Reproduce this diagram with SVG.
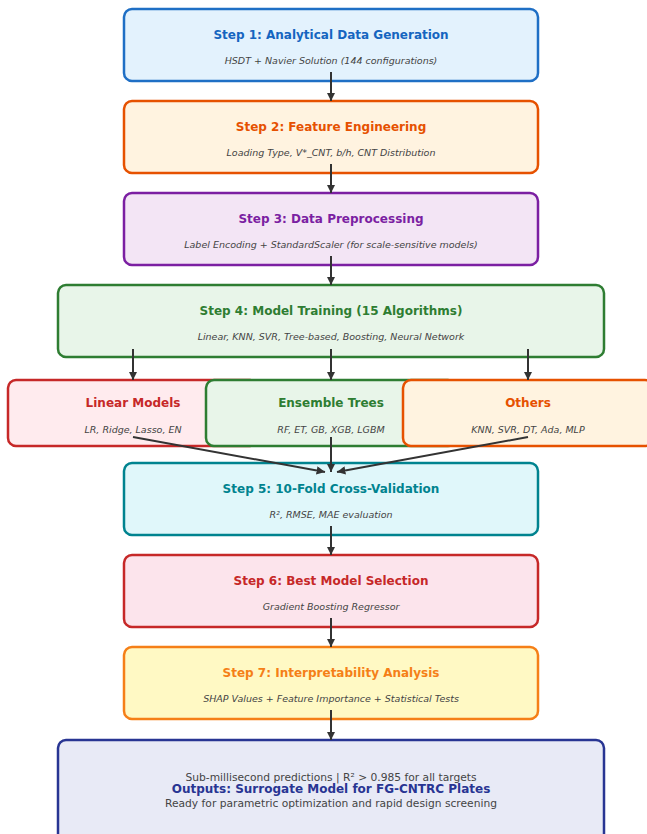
<svg xmlns="http://www.w3.org/2000/svg" width="647" height="834" viewBox="0 0 647 834">
<defs>
<marker id="ah" viewBox="0 0 10 10" refX="10" refY="5" markerWidth="4.2" markerHeight="4.2" markerUnits="strokeWidth" orient="auto">
<path d="M0,0 L10,5 L0,10 z" fill="#333"/>
</marker>
<style>
rect{stroke-width:2.5}
.t{font-family:"DejaVu Sans",sans-serif;font-weight:bold;font-size:12px;text-anchor:middle}
.s{font-family:"DejaVu Sans",sans-serif;font-style:italic;font-size:9.5px;fill:#444;text-anchor:middle}
.o{font-family:"DejaVu Sans",sans-serif;font-size:10.7px;fill:#444;text-anchor:middle}
.c line{stroke:#333;stroke-width:2;marker-end:url(#ah)}
</style>
</defs>
<rect width="647" height="834" fill="#fff" style="stroke:none"/>
<g id="step1"><rect x="124" y="9" width="414" height="72" rx="8" fill="#e3f2fd" stroke="#1f6fc5"/>
<text class="t" x="331" y="39" fill="#1565c0">Step 1: Analytical Data Generation</text>
<text class="s" x="331" y="64">HSDT + Navier Solution (144 configurations)</text></g>
<g id="step2"><rect x="124" y="101" width="414" height="72" rx="8" fill="#fff3e0" stroke="#e65100"/>
<text class="t" x="331" y="131" fill="#e65100">Step 2: Feature Engineering</text>
<text class="s" x="331" y="156">Loading Type, V*_CNT, b/h, CNT Distribution</text></g>
<g id="step3"><rect x="124" y="193" width="414" height="72" rx="8" fill="#f3e5f5" stroke="#7b1fa2"/>
<text class="t" x="331" y="223" fill="#7b1fa2">Step 3: Data Preprocessing</text>
<text class="s" x="331" y="248">Label Encoding + StandardScaler (for scale-sensitive models)</text></g>
<g id="step4"><rect x="58" y="285" width="546" height="72" rx="8" fill="#e8f5e9" stroke="#2e7d32"/>
<text class="t" x="331" y="315" fill="#2e7d32">Step 4: Model Training (15 Algorithms)</text>
<text class="s" x="331" y="340">Linear, KNN, SVR, Tree-based, Boosting, Neural Network</text></g>
<g id="linear"><rect x="8" y="380" width="250" height="66" rx="8" fill="#ffebee" stroke="#c62828"/>
<text class="t" x="133" y="407" fill="#c62828">Linear Models</text>
<text class="s" x="133" y="432.5">LR, Ridge, Lasso, EN</text></g>
<g id="ensemble"><rect x="206" y="380" width="250" height="66" rx="8" fill="#e8f5e9" stroke="#2e7d32"/>
<text class="t" x="331" y="407" fill="#2e7d32">Ensemble Trees</text>
<text class="s" x="331" y="432.5">RF, ET, GB, XGB, LGBM</text></g>
<g id="others"><rect x="403" y="380" width="250" height="66" rx="8" fill="#fff3e0" stroke="#e65100"/>
<text class="t" x="528" y="407" fill="#e65100">Others</text>
<text class="s" x="528" y="432.5">KNN, SVR, DT, Ada, MLP</text></g>
<g id="step5"><rect x="124" y="463" width="414" height="72" rx="8" fill="#e0f7fa" stroke="#00838f"/>
<text class="t" x="331" y="493" fill="#00838f">Step 5: 10-Fold Cross-Validation</text>
<text class="s" x="331" y="518">R², RMSE, MAE evaluation</text></g>
<g id="step6"><rect x="124" y="555" width="414" height="72" rx="8" fill="#fce4ec" stroke="#c62828"/>
<text class="t" x="331" y="585" fill="#c62828">Step 6: Best Model Selection</text>
<text class="s" x="331" y="610">Gradient Boosting Regressor</text></g>
<g id="step7"><rect x="124" y="647" width="414" height="72" rx="8" fill="#fff9c4" stroke="#f57f17"/>
<text class="t" x="331" y="677" fill="#f57f17">Step 7: Interpretability Analysis</text>
<text class="s" x="331" y="702">SHAP Values + Feature Importance + Statistical Tests</text></g>
<g id="outputs"><rect x="58" y="740" width="546" height="110" rx="8" fill="#e8eaf6" stroke="#283593"/>
<text class="o" x="331" y="781">Sub-millisecond predictions | R² &gt; 0.985 for all targets</text>
<text class="t" x="331" y="792.5" fill="#283593">Outputs: Surrogate Model for FG-CNTRC Plates</text>
<text class="o" x="331" y="807">Ready for parametric optimization and rapid design screening</text></g>
<g class="c" id="connectors">
<line x1="331" y1="72" x2="331" y2="101"/>
<line x1="331" y1="164" x2="331" y2="193"/>
<line x1="331" y1="256" x2="331" y2="285"/>
<line x1="133" y1="349" x2="133" y2="380"/>
<line x1="331" y1="349" x2="331" y2="380"/>
<line x1="528" y1="349" x2="528" y2="380"/>
<line x1="133" y1="437" x2="325" y2="472"/>
<line x1="331" y1="437" x2="331" y2="472"/>
<line x1="528" y1="437" x2="337" y2="472"/>
<line x1="331" y1="526" x2="331" y2="555"/>
<line x1="331" y1="618" x2="331" y2="647"/>
<line x1="331" y1="710" x2="331" y2="740"/>
</g>
</svg>
